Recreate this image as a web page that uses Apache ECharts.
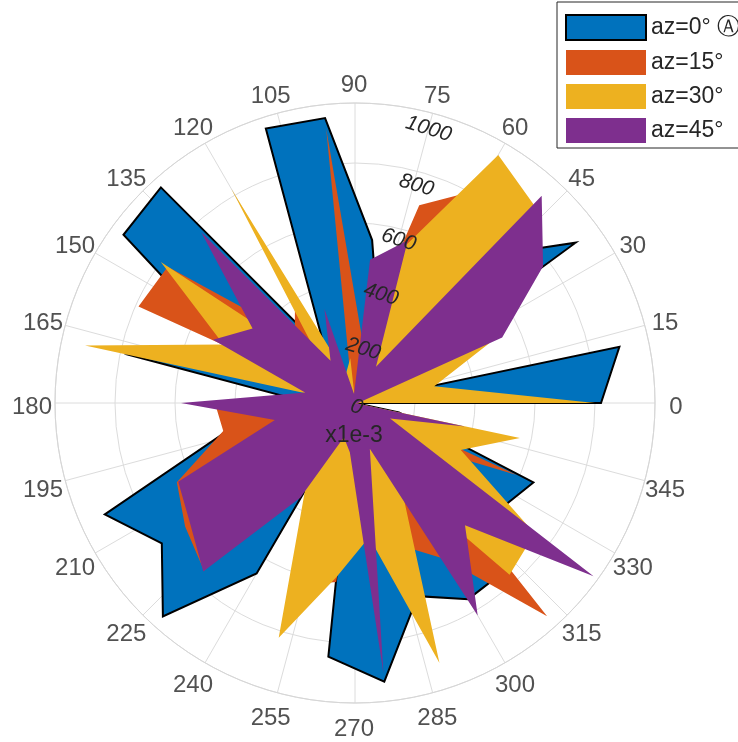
<!DOCTYPE html>
<html><head><meta charset="utf-8">
<script src="https://cdn.jsdelivr.net/npm/echarts@6/dist/echarts.min.js"></script>
<style>html,body{margin:0;padding:0;background:#fff;overflow:hidden}#chart{width:738px;height:742px}</style>
</head><body><div id="chart"></div>
<script>
// angles of the data vertices (degrees)
const thetaDeg = [0,12,24,36,48,60,72,84,96,108,120,132,144,156,168,180,192,204,216,228,240,252,264,276,288,300,312,324,336,348];
// radial values (displayed units, x1e-3)
const az0  = [820,901,15,909,660,300,258,546,955,962,195,967,954,465,769,150,430,913,796,957,656,15,850,934,677,755,750,600,651,150];
const az15 = [300,150,250,500,600,820,693,220,920,30,400,300,772,790,25,467,449,650,700,752,250,640,600,150,500,600,957,230,590,40];
const az30 = [800,270,490,450,890,955,555,5,150,100,825,150,800,480,920,15,150,300,300,400,332,823,582,450,911,300,770,740,386,562];
const az45 = [10,10,537,775,930,140,570,480,30,330,163,766,422,518,170,580,273,645,680,756,365,120,165,905,160,818,548,983,128,375];
const seriesNames = ['az=0° Ⓐ','az=15°','az=30°','az=45°'];
const seriesColors = ['#0072BD','#D95319','#EDB120','#7E2F8E'];
const radiusTicks = [0,200,400,600,800,1000];
const angleTicks = [0,15,30,45,60,75,90,105,120,135,150,165,180,195,210,225,240,255,270,285,300,315,330,345];
const exponentLabel = 'x1e-3';

const CX = 355, CY = 403, R = 300;
const FONT = 'Liberation Sans, Arial, Helvetica, sans-serif';
const RMAX = radiusTicks[radiusTicks.length - 1];
const ANGLE_LABEL_R = RMAX * 322 / R;   // label ring just outside the plot
const allValues = [az0, az15, az30, az45];

function buildData(vals) {
  const d = [[0, thetaDeg[0]]];
  vals.forEach((v, i) => d.push([v, thetaDeg[i]]));
  d.push([0, thetaDeg[thetaDeg.length - 1]]);
  return d;
}

const series = allValues.map((vals, k) => ({
  name: seriesNames[k],
  type: 'line',
  coordinateSystem: 'polar',
  polarIndex: 0,
  data: buildData(vals),
  symbol: 'none',
  smooth: false,
  clip: false,
  silent: true,
  animation: false,
  lineStyle: k === 0 ? {color: '#000', width: 2, join: 'miter'} : {width: 0, opacity: 0},
  areaStyle: {color: seriesColors[k], opacity: 1},
  itemStyle: {color: seriesColors[k]},
  z: 2 + k
}));

// angle tick labels, placed on a ring through the polar scale
series.push({
  name: 'angleLabels',
  type: 'scatter',
  coordinateSystem: 'polar',
  polarIndex: 2,
  silent: true,
  animation: false,
  clip: false,
  symbolSize: 1,
  itemStyle: {color: 'transparent'},
  data: angleTicks.map(a => [ANGLE_LABEL_R, a]),
  label: {
    show: true, position: 'inside', fontSize: 24, color: '#262626', fontFamily: FONT,
    formatter: p => String(p.value[1])
  },
  z: 10
});

const hiddenAngle = (idx, start) => ({
  polarIndex: idx, type: 'value', min: 0, max: 360, startAngle: start, clockwise: false,
  axisLine: {show: false}, axisTick: {show: false}, axisLabel: {show: false}, splitLine: {show: false}
});

const chart = echarts.init(document.getElementById('chart'), null, {renderer: 'canvas'});
chart.setOption({
  animation: false,
  backgroundColor: '#fff',
  polar: [
    {center: [CX, CY], radius: R},
    {center: [CX + 11, CY + 7], radius: 287},
    {center: [CX - 1, CY + 4], radius: R}
  ],
  angleAxis: [
    {
      polarIndex: 0, type: 'value', min: 0, max: 360, interval: 15,
      startAngle: 0, clockwise: false,
      axisLine: {show: true, lineStyle: {color: '#d6d6d6', width: 1}},
      axisTick: {show: false},
      splitLine: {show: true, lineStyle: {color: '#dcdcdc', width: 1}},
      axisLabel: {show: false}
    },
    hiddenAngle(1, 72),
    hiddenAngle(2, 0)
  ],
  radiusAxis: [
    {
      polarIndex: 0, type: 'value', min: radiusTicks[0], max: RMAX, interval: 200,
      axisLine: {show: false}, axisTick: {show: false}, axisLabel: {show: false},
      splitLine: {show: true, lineStyle: {color: '#dcdcdc', width: 1}}
    },
    {
      polarIndex: 1, type: 'value', min: radiusTicks[0], max: RMAX, interval: 200,
      z: 20,
      axisLine: {show: false}, axisTick: {show: false}, splitLine: {show: false},
      axisLabel: {
        show: true, fontSize: 21, fontStyle: 'italic', color: '#262626', fontFamily: FONT,
        rotate: -17, margin: 4,
        formatter: v => (radiusTicks.indexOf(v) >= 0 ? String(v) : '')
      }
    },
    {
      polarIndex: 2, type: 'value', min: radiusTicks[0], max: RMAX,
      axisLine: {show: false}, axisTick: {show: false}, axisLabel: {show: false}, splitLine: {show: false}
    }
  ],
  legend: {
    orient: 'vertical', left: 557, top: 2,
    itemWidth: 80, itemHeight: 25, itemGap: 9,
    padding: [12, 4, 5, 8],
    borderColor: '#262626', borderWidth: 1, backgroundColor: '#fff',
    textStyle: {fontSize: 23, color: '#262626', fontFamily: FONT},
    data: seriesNames.map((n, k) => ({
      name: n, icon: 'rect',
      itemStyle: k === 0 ? {color: seriesColors[k], borderColor: '#000', borderWidth: 2} : {color: seriesColors[k], borderWidth: 0}
    }))
  },
  graphic: [{
    type: 'text', x: CX - 1, y: CY + 33, z: 30,
    style: {text: exponentLabel, fill: '#262626', font: '23px ' + FONT, textAlign: 'center', textVerticalAlign: 'middle'}
  }],
  series: series
});
</script>
</body></html>
